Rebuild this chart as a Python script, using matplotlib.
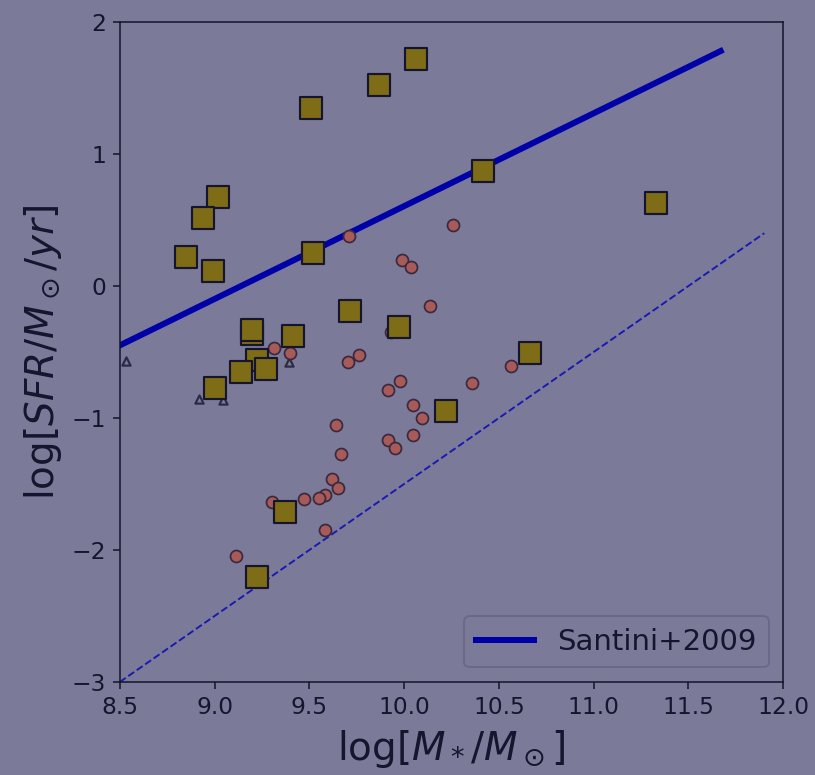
import matplotlib
matplotlib.use("Agg")
import matplotlib.pyplot as plt

# Stellar mass vs. star formation rate
square_x = [10.063, 9.867, 9.508, 9.017, 8.938, 8.848, 8.991, 9.519, 10.416, 11.33,
            9.197, 9.197, 9.413, 9.714, 9.973, 9.223, 9.27, 9.139, 9.0, 10.222,
            10.665, 9.371, 9.223]
square_y = [1.72, 1.523, 1.348, 0.674, 0.515, 0.22, 0.114, 0.25, 0.871, 0.629,
            -0.364, -0.333, -0.379, -0.189, -0.311, -0.56, -0.629, -0.652, -0.773, -0.947,
            -0.508, -1.712, -2.205]

circle_x = [10.256, 9.711, 9.99, 10.038, 10.138, 9.93, 9.398, 9.76, 9.704, 10.562,
            10.36, 9.98, 9.916, 10.045, 10.092, 10.045, 9.914, 9.953, 9.638, 9.665,
            9.619, 9.649, 9.582, 9.552, 9.471, 9.304, 9.582, 9.111, 9.314]
circle_y = [0.46, 0.381, 0.195, 0.142, -0.152, -0.346, -0.51, -0.523, -0.578, -0.604,
            -0.732, -0.72, -0.788, -0.904, -1.0, -1.131, -1.167, -1.225, -1.053, -1.275,
            -1.462, -1.53, -1.583, -1.608, -1.611, -1.634, -1.846, -2.048, -0.467]

tri_x = [8.532, 8.917, 9.047, 9.39]
tri_y = [-0.568, -0.859, -0.864, -0.573]

santini_x = [8.5, 11.67]
santini_y = [-0.45, 1.78]

limit_x = [8.5, 11.9]
limit_y = [-3.0, 0.4]

bg = "#7b7b99"
ink = "#15152e"

DPI = 140
fig = plt.figure(figsize=(815 / DPI, 775 / DPI), dpi=DPI, facecolor=bg)
ax = fig.add_axes([0.147, 0.12, 0.814, 0.8516], facecolor=bg)

ax.plot(santini_x, santini_y, color="#0000a8", lw=3.1, label="Santini+2009", zorder=2)
ax.plot(limit_x, limit_y, color="#1a1ab0", lw=1.0, ls="--", zorder=2)

ax.scatter(tri_x, tri_y, marker="^", s=18, facecolor=bg, edgecolor="#2a2a48",
           linewidth=1.1, zorder=3)
ax.scatter(circle_x, circle_y, marker="o", s=38, facecolor="#a85a58", edgecolor="#3a2a40",
           linewidth=0.9, zorder=4)
ax.scatter(square_x, square_y, marker="s", s=122, facecolor="#7f6c16", edgecolor=ink,
           linewidth=1.1, zorder=5)

ax.set_xlim(8.5, 12.0)
ax.set_ylim(-3, 2)
ax.set_xticks([8.5, 9.0, 9.5, 10.0, 10.5, 11.0, 11.5, 12.0])
ax.set_yticks([-3, -2, -1, 0, 1, 2])
ax.tick_params(colors=ink, labelsize=12)
for s in ax.spines.values():
    s.set_color(ink)

ax.set_xlabel(r"log$[M_*/M_\odot]$", fontsize=20, color=ink, labelpad=5)
ax.set_ylabel(r"log$[SFR/M_\odot/yr]$", fontsize=20, color=ink)

leg = ax.legend(loc="lower right", fontsize=15, facecolor=bg, edgecolor="#6a6a88",
                framealpha=1.0)
for t in leg.get_texts():
    t.set_color(ink)

fig.savefig("out.png", dpi=DPI, facecolor=bg)
